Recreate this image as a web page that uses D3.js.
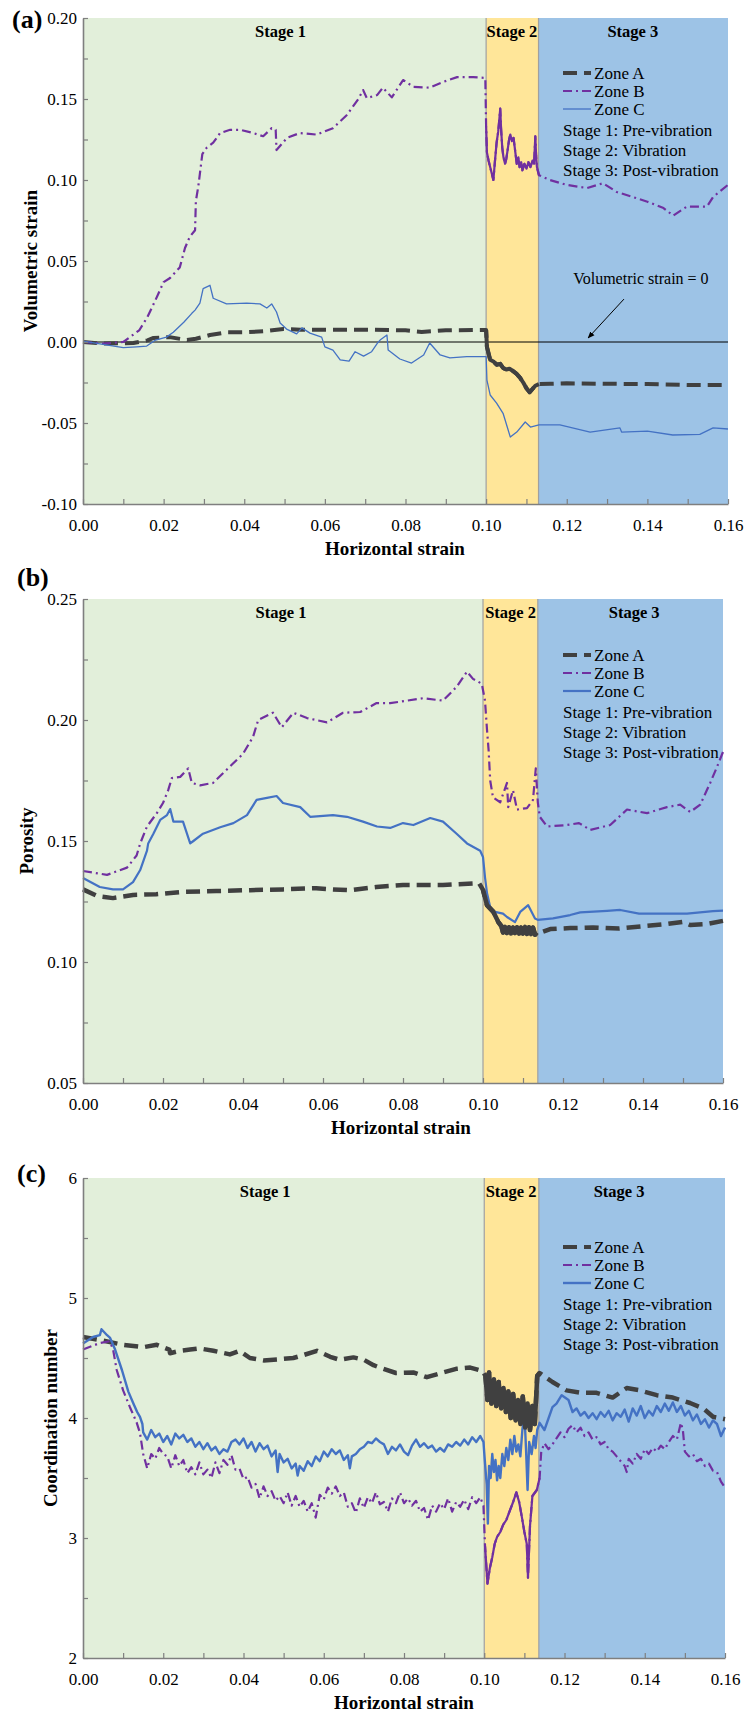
<!DOCTYPE html>
<html>
<head>
<meta charset="utf-8">
<script src="https://cdn.jsdelivr.net/npm/d3@7"></script>
<style>
  body { margin: 0; background: #fff; }
  svg { display: block; }
</style>
</head>
<body>
<div id="chart"></div>
<script>

// tick labels
var xTickLabels = ['0.00', '0.02', '0.04', '0.06', '0.08', '0.10', '0.12', '0.14', '0.16'];
var volTickLabels = ['-0.10', '-0.05', '0.00', '0.05', '0.10', '0.15', '0.20'];
var porTickLabels = ['0.05', '0.10', '0.15', '0.20', '0.25'];
var coordTickLabels = ['2', '3', '4', '5', '6'];

var zoneNames = ['Zone A', 'Zone B', 'Zone C'];
var stageNames = ['Stage 1', 'Stage 2', 'Stage 3'];
var stageNotes = ['Stage 1: Pre-vibration', 'Stage 2: Vibration', 'Stage 3: Post-vibration'];

// stage edges in horizontal strain (start, stage 2, stage 3, end)
var volStages = [0, 0.1, 0.113, 0.16];
var porStages = [0, 0.1, 0.1137, 0.16];
var coordStages = [0, 0.1, 0.1136, 0.16];

// (a) volumetric strain  [horizontal strain, value]
var volZoneA = [[0,0],[0.005,-0.001],[0.0125,-0.0006],[0.016,0.001],[0.0175,0.0025],[0.0215,0.003],[0.0258,0.0012],
  [0.028,0.002],[0.0315,0.0043],[0.0356,0.006],[0.0406,0.006],[0.0455,0.0068],[0.0497,0.008],[0.054,0.0076],[0.062,0.0076],
  [0.07,0.0076],[0.08,0.0072],[0.084,0.0062],[0.09,0.0072],[0.1,0.0074],
  [0.1002,-0.003],[0.101,-0.011],[0.1018,-0.012],[0.1026,-0.014],[0.1035,-0.0135],[0.1042,-0.016],[0.105,-0.017],
  [0.1058,-0.0165],[0.1067,-0.018],[0.1075,-0.0195],[0.1084,-0.022],[0.1092,-0.025],[0.11,-0.0285],[0.1108,-0.031],
  [0.1115,-0.029],[0.1122,-0.027],[0.1131,-0.026],
  [0.116,-0.0258],[0.12,-0.0255],[0.13,-0.0258],[0.14,-0.026],[0.15,-0.0265],[0.16,-0.0265]];
var volZoneB = [[0,0],[0.005,-0.001],[0.01,0],[0.013,0.0055],[0.014,0.0074],[0.016,0.0155],[0.018,0.026],[0.02,0.037],
  [0.0216,0.0395],[0.024,0.046],[0.0253,0.058],[0.0265,0.065],[0.0278,0.069],[0.028,0.087],[0.0286,0.096],[0.029,0.104],
  [0.0296,0.116],[0.0307,0.12],[0.0323,0.123],[0.034,0.129],[0.0365,0.131],[0.039,0.131],[0.0422,0.129],[0.0447,0.127],
  [0.0468,0.132],[0.0478,0.131],[0.048,0.1185],[0.0506,0.126],[0.0538,0.129],[0.058,0.128],[0.062,0.132],[0.0654,0.14],
  [0.0683,0.15],[0.0695,0.1555],[0.0704,0.1505],[0.073,0.1525],[0.0744,0.157],[0.0766,0.151],[0.0794,0.1617],[0.082,0.1575],
  [0.086,0.157],[0.0893,0.1605],[0.0928,0.1635],[0.0968,0.1635],[0.0998,0.163],
  [0.1,0.133],[0.1002,0.117],[0.1006,0.112],[0.101,0.108],[0.1014,0.104],[0.1018,0.1],[0.1022,0.112],[0.1026,0.123],
  [0.103,0.13],[0.1033,0.138],[0.1035,0.144],[0.1037,0.132],[0.104,0.12],[0.1043,0.114],[0.1047,0.11],[0.105,0.113],
  [0.1053,0.118],[0.1057,0.125],[0.106,0.128],[0.1064,0.124],[0.1068,0.126],[0.1072,0.118],[0.1076,0.11],[0.108,0.114],
  [0.1083,0.108],[0.1087,0.111],[0.109,0.106],[0.1095,0.11],[0.11,0.107],[0.1105,0.111],[0.111,0.108],[0.1115,0.112],
  [0.1119,0.11],[0.1122,0.127],[0.1124,0.115],[0.1126,0.108],[0.1131,0.103],
  [0.1158,0.1],[0.12,0.097],[0.125,0.095],[0.129,0.098],[0.1324,0.0926],[0.1364,0.0895],[0.14,0.0866],[0.144,0.0827],
  [0.1464,0.078],[0.1498,0.0836],[0.1548,0.0836],[0.1563,0.0895],[0.16,0.097]];
var volZoneC = [[0,0.0006],[0.0042,-0.0012],[0.01,-0.0035],[0.0133,-0.003],[0.0158,-0.0025],[0.018,0.0012],[0.0207,0.003],
  [0.0224,0.006],[0.025,0.0122],[0.027,0.0177],[0.0278,0.0197],[0.029,0.024],[0.0298,0.033],[0.0315,0.035],[0.0323,0.027],
  [0.0356,0.0235],[0.0406,0.024],[0.0439,0.0235],[0.0456,0.021],[0.0468,0.0235],[0.048,0.0185],[0.0489,0.0117],
  [0.0505,0.008],[0.053,0.005],[0.0543,0.0087],[0.0563,0.0055],[0.0592,0.003],[0.06,-0.003],[0.062,-0.005],[0.0638,-0.011],
  [0.066,-0.0118],[0.0675,-0.006],[0.0696,-0.0087],[0.0716,-0.006],[0.073,-0.0008],[0.0737,0.0012],[0.0754,0.0043],
  [0.0757,-0.005],[0.0786,-0.0105],[0.0815,-0.013],[0.0845,-0.008],[0.086,-0.0006],[0.0886,-0.008],[0.091,-0.0098],
  [0.0952,-0.009],[0.1,-0.009],
  [0.1002,-0.0235],[0.101,-0.0327],[0.1026,-0.0377],[0.1042,-0.044],[0.106,-0.0587],[0.1076,-0.0556],[0.1097,-0.0494],
  [0.111,-0.0525],[0.1131,-0.0512],
  [0.1183,-0.0512],[0.1258,-0.0556],[0.1332,-0.053],[0.1336,-0.0556],[0.14,-0.055],[0.1463,-0.0574],[0.153,-0.057],
  [0.1563,-0.053],[0.16,-0.0537]];

// (b) porosity
var porZoneA = [[0,0.13],[0.0035,0.1273],[0.0075,0.1264],[0.0125,0.1277],[0.0183,0.128],[0.025,0.129],[0.0333,0.1293],
  [0.0418,0.1297],[0.05,0.13],[0.0583,0.1305],[0.0625,0.13],[0.0668,0.1297],[0.0733,0.131],[0.08,0.1318],[0.09,0.1318],
  [0.099,0.1326],
  [0.1,0.1298],[0.101,0.1235],[0.1026,0.1207],[0.1038,0.1166],[0.1046,0.1148],[0.105,0.1122],[0.1055,0.1145],
  [0.106,0.112],[0.1065,0.1143],[0.107,0.1118],[0.1075,0.1142],[0.108,0.112],[0.1085,0.1143],[0.109,0.1117],
  [0.1095,0.1142],[0.11,0.1118],[0.1105,0.1145],[0.111,0.1116],[0.1115,0.1143],[0.112,0.1115],[0.1125,0.1142],
  [0.113,0.1113],[0.1135,0.1122],
  [0.115,0.1125],[0.1168,0.1136],[0.1218,0.114],[0.1275,0.1143],[0.134,0.1138],[0.14,0.1148],[0.146,0.1157],[0.15,0.1166],
  [0.1518,0.1153],[0.156,0.1157],[0.16,0.117]];
var porZoneB = [[0,0.1376],[0.006,0.136],[0.011,0.139],[0.0134,0.144],[0.0143,0.149],[0.016,0.156],[0.0185,0.1616],
  [0.02,0.1657],[0.0213,0.171],[0.0222,0.176],[0.0243,0.1765],[0.0263,0.18],[0.0272,0.174],[0.0293,0.173],[0.0325,0.174],
  [0.035,0.178],[0.0375,0.182],[0.04,0.186],[0.0425,0.193],[0.0438,0.2],[0.0475,0.203],[0.0497,0.197],[0.0526,0.203],
  [0.056,0.2008],[0.061,0.199],[0.065,0.203],[0.0693,0.2033],[0.0734,0.207],[0.0768,0.207],[0.079,0.2075],[0.085,0.209],
  [0.09,0.208],[0.0934,0.2137],[0.096,0.22],[0.0975,0.217],[0.0997,0.215],
  [0.1005,0.208],[0.101,0.196],[0.1014,0.1876],[0.1018,0.175],[0.1025,0.168],[0.1043,0.166],[0.106,0.174],[0.1063,0.164],
  [0.1075,0.171],[0.1085,0.163],[0.111,0.1636],[0.1125,0.167],[0.1132,0.18],[0.1137,0.166],
  [0.1142,0.16],[0.116,0.156],[0.121,0.1566],[0.124,0.1574],[0.1268,0.1546],[0.1318,0.1566],[0.136,0.163],[0.1393,0.162],
  [0.141,0.1615],[0.146,0.164],[0.1493,0.165],[0.1518,0.162],[0.1543,0.165],[0.1568,0.174],[0.1585,0.1806],[0.16,0.1868]];
var porZoneC = [[0,0.1347],[0.0042,0.131],[0.0075,0.13],[0.01,0.13],[0.0125,0.133],[0.0143,0.138],[0.016,0.146],
  [0.0163,0.149],[0.0176,0.153],[0.0193,0.1587],[0.021,0.1607],[0.0218,0.1632],[0.0226,0.158],[0.025,0.158],[0.0268,0.149],
  [0.0276,0.15],[0.03,0.153],[0.0343,0.1557],[0.0376,0.1574],[0.041,0.1607],[0.0434,0.167],[0.046,0.1678],[0.0484,0.1686],
  [0.05,0.1657],[0.0543,0.164],[0.0568,0.16],[0.0625,0.1607],[0.066,0.16],[0.07,0.158],[0.0735,0.156],[0.0768,0.1554],
  [0.08,0.1574],[0.0826,0.1566],[0.0868,0.1595],[0.09,0.158],[0.0934,0.153],[0.096,0.149],[0.0993,0.146],
  [0.1,0.1434],[0.1005,0.135],[0.101,0.1285],[0.1018,0.1227],[0.103,0.1207],[0.105,0.12],[0.106,0.1186],[0.108,0.1165],
  [0.1093,0.1207],[0.1113,0.1235],[0.113,0.118],[0.1137,0.1174],
  [0.1175,0.118],[0.1218,0.1194],[0.1243,0.1205],[0.131,0.1211],[0.1343,0.1215],[0.139,0.12],[0.151,0.12],[0.1575,0.121],
  [0.16,0.1212]];

// (c) coordination number
var coordZoneA = [[0,4.675],[0.0042,4.65],[0.01,4.61],[0.015,4.59],[0.0184,4.61],[0.0215,4.57],[0.0217,4.54],[0.0242,4.56],
  [0.0267,4.57],[0.029,4.58],[0.0325,4.56],[0.0366,4.53],[0.039,4.56],[0.0416,4.5],[0.045,4.48],[0.049,4.49],[0.0524,4.5],
  [0.055,4.525],[0.0583,4.56],[0.0616,4.51],[0.064,4.485],[0.0674,4.505],[0.07,4.485],[0.0724,4.44],[0.074,4.42],
  [0.078,4.375],[0.0823,4.38],[0.0857,4.34],[0.0898,4.38],[0.093,4.41],[0.0965,4.42],[0.0997,4.39],
  [0.1003,4.35],[0.1008,4.15],[0.1012,4.38],[0.1018,4.12],[0.1024,4.32],[0.103,4.1],[0.1036,4.3],[0.1042,4.08],
  [0.1048,4.25],[0.1054,4.05],[0.106,4.22],[0.1066,4.0],[0.1072,4.2],[0.1078,3.98],[0.1084,4.15],[0.109,3.95],
  [0.1096,4.18],[0.1102,3.92],[0.1108,4.12],[0.1114,3.9],[0.112,4.1],[0.1126,3.95],[0.1132,4.35],
  [0.1138,4.375],[0.117,4.3],[0.1205,4.23],[0.124,4.21],[0.128,4.21],[0.132,4.17],[0.1355,4.25],[0.1388,4.23],
  [0.143,4.19],[0.147,4.17],[0.1513,4.125],[0.1546,4.08],[0.157,4.01],[0.16,3.99]];
var coordZoneB = [[0,4.57],[0.0042,4.625],[0.0067,4.64],[0.0075,4.57],[0.0084,4.4],[0.01,4.23],[0.0117,4.09],[0.0134,3.96],
  [0.0142,3.875],[0.015,3.7],[0.016,3.58],[0.017,3.7],[0.018,3.66],[0.019,3.75],[0.02,3.7],[0.021,3.68],[0.022,3.58],
  [0.023,3.69],[0.024,3.6],[0.025,3.65],[0.026,3.54],[0.027,3.59],[0.028,3.53],[0.029,3.63],[0.03,3.53],[0.031,3.57],
  [0.032,3.5],[0.033,3.63],[0.034,3.54],[0.035,3.65],[0.036,3.61],[0.037,3.69],[0.038,3.57],[0.039,3.58],[0.04,3.49],
  [0.041,3.51],[0.042,3.42],[0.043,3.45],[0.044,3.33],[0.045,3.43],[0.046,3.35],[0.047,3.39],[0.048,3.31],[0.049,3.35],
  [0.05,3.29],[0.051,3.38],[0.052,3.27],[0.053,3.35],[0.054,3.26],[0.055,3.31],[0.056,3.22],[0.057,3.29],[0.058,3.17],
  [0.059,3.36],[0.06,3.32],[0.061,3.42],[0.062,3.37],[0.063,3.43],[0.064,3.35],[0.065,3.38],[0.066,3.26],[0.067,3.29],
  [0.068,3.21],[0.069,3.33],[0.07,3.25],[0.071,3.34],[0.072,3.29],[0.073,3.38],[0.074,3.28],[0.075,3.3],[0.076,3.22],
  [0.077,3.33],[0.078,3.29],[0.079,3.38],[0.08,3.29],[0.081,3.33],[0.082,3.27],[0.083,3.31],[0.084,3.22],[0.085,3.25],
  [0.086,3.15],[0.087,3.27],[0.088,3.22],[0.089,3.29],[0.09,3.24],[0.091,3.33],[0.092,3.22],[0.093,3.3],[0.094,3.26],
  [0.095,3.32],[0.096,3.24],[0.097,3.34],[0.098,3.29],[0.099,3.34],[0.0998,3.27],
  [0.1002,2.93],[0.1008,2.62],[0.1014,2.75],[0.102,2.84],[0.1026,2.95],[0.1032,3.01],[0.104,3.05],[0.1047,3.11],
  [0.1055,3.15],[0.1064,3.23],[0.1072,3.3],[0.108,3.38],[0.1087,3.3],[0.1094,3.17],[0.11,3.05],[0.1106,2.95],
  [0.1109,2.67],[0.1114,3.1],[0.112,3.35],[0.1131,3.4],
  [0.1138,3.5],[0.1142,3.72],[0.115,3.79],[0.116,3.74],[0.117,3.78],[0.118,3.83],[0.119,3.88],[0.12,3.84],[0.121,3.91],
  [0.122,3.94],[0.123,3.88],[0.124,3.92],[0.125,3.85],[0.126,3.88],[0.127,3.82],[0.128,3.84],[0.129,3.78],[0.13,3.8],
  [0.131,3.74],[0.132,3.72],[0.133,3.68],[0.134,3.64],[0.135,3.6],[0.1355,3.55],[0.136,3.66],[0.137,3.62],[0.138,3.7],
  [0.139,3.66],[0.14,3.74],[0.141,3.7],[0.142,3.75],[0.143,3.72],[0.144,3.77],[0.145,3.74],[0.146,3.8],[0.147,3.85],
  [0.148,3.82],[0.149,3.96],[0.1495,3.9],[0.15,3.72],[0.151,3.68],[0.152,3.7],[0.153,3.64],[0.154,3.66],[0.155,3.6],
  [0.156,3.62],[0.157,3.56],[0.158,3.55],[0.159,3.47],[0.16,3.42]];
var coordZoneC = [[0,4.62],[0.0025,4.675],[0.0042,4.69],[0.0046,4.74],[0.006,4.69],[0.0067,4.67],[0.008,4.57],[0.0097,4.4],
  [0.0113,4.22],[0.0125,4.125],[0.0135,4.05],[0.0142,4.01],[0.0148,3.95],
  [0.015,3.88],[0.016,3.82],[0.017,3.9],[0.018,3.84],[0.019,3.87],[0.02,3.8],[0.021,3.85],[0.022,3.78],[0.023,3.87],
  [0.024,3.83],[0.025,3.86],[0.026,3.8],[0.027,3.83],[0.028,3.76],[0.029,3.8],[0.03,3.74],[0.031,3.79],[0.032,3.73],
  [0.033,3.76],[0.034,3.7],[0.035,3.74],[0.036,3.72],[0.037,3.8],[0.038,3.82],[0.039,3.78],[0.04,3.83],[0.041,3.75],
  [0.042,3.8],[0.043,3.72],[0.044,3.79],[0.045,3.74],[0.046,3.77],[0.047,3.68],[0.048,3.73],[0.0485,3.55],[0.049,3.7],
  [0.05,3.63],[0.051,3.66],[0.052,3.58],[0.053,3.62],[0.0535,3.52],[0.054,3.6],[0.055,3.56],[0.056,3.64],[0.057,3.6],
  [0.058,3.68],[0.059,3.64],[0.06,3.72],[0.061,3.68],[0.062,3.74],[0.063,3.7],[0.064,3.73],[0.065,3.65],[0.066,3.69],
  [0.0665,3.58],[0.067,3.68],[0.068,3.7],[0.069,3.74],[0.07,3.76],[0.071,3.8],[0.072,3.79],[0.073,3.83],[0.074,3.8],
  [0.075,3.78],[0.076,3.7],[0.077,3.76],[0.078,3.73],[0.079,3.78],[0.08,3.72],[0.081,3.69],[0.082,3.77],[0.083,3.82],
  [0.084,3.76],[0.085,3.79],[0.086,3.75],[0.087,3.77],[0.088,3.72],[0.089,3.75],[0.09,3.72],[0.091,3.78],[0.092,3.76],
  [0.093,3.8],[0.094,3.77],[0.095,3.82],[0.096,3.78],[0.097,3.84],[0.098,3.8],[0.099,3.85],[0.0998,3.8],
  [0.1002,3.62],[0.1006,3.45],[0.1009,3.12],[0.1012,3.6],[0.1016,3.5],[0.102,3.7],[0.1024,3.55],[0.1028,3.65],
  [0.1032,3.48],[0.1036,3.6],[0.104,3.5],[0.1045,3.7],[0.105,3.6],[0.1055,3.75],[0.106,3.65],[0.1065,3.82],[0.107,3.7],
  [0.1075,3.85],[0.108,3.72],[0.1085,3.78],[0.109,3.68],[0.1095,3.9],[0.11,4.05],[0.1104,3.75],[0.1108,3.4],
  [0.1112,3.8],[0.1118,3.7],[0.1124,3.85],[0.1128,3.75],[0.1132,3.9],
  [0.1138,3.96],[0.115,3.9],[0.117,4.09],[0.118,4.12],[0.1193,4.19],[0.121,4.15],[0.122,4.05],[0.123,4.08],[0.124,4.02],
  [0.125,4.05],[0.126,4.0],[0.127,4.04],[0.128,3.99],[0.129,4.05],[0.13,4.01],[0.131,4.06],[0.132,3.98],[0.133,4.04],
  [0.134,4.01],[0.135,4.07],[0.136,3.97],[0.137,4.08],[0.138,4.02],[0.139,4.1],[0.14,4.0],[0.141,4.06],[0.142,4.02],
  [0.143,4.1],[0.144,4.05],[0.145,4.12],[0.146,4.06],[0.147,4.13],[0.148,4.05],[0.149,4.1],[0.15,4.02],[0.151,4.06],
  [0.152,3.98],[0.153,4.03],[0.154,3.95],[0.155,3.99],[0.156,3.92],[0.157,3.98],[0.158,3.95],[0.159,3.85],[0.16,3.92]];


var W = 755, H = 1713;
var left = 83;
var serif = '"Liberation Serif", "Times New Roman", serif';
var stageColors = ['#e2efda', '#ffe699', '#9dc3e6'];
var zoneColors = ['#404040', '#7030a0', '#4472c4'];
var zoneDash = ['14,7', '9,4,2,4', null];

var svg = d3.select('#chart').append('svg')
    .attr('width', W)
    .attr('height', H)
    .attr('viewBox', '0 0 ' + W + ' ' + H)
    .style('background', '#fff');

svg.append('defs').append('marker')
    .attr('id', 'arrow')
    .attr('viewBox', '0 0 10 10')
    .attr('refX', 9).attr('refY', 5)
    .attr('markerWidth', 7).attr('markerHeight', 7)
    .attr('orient', 'auto')
  .append('path')
    .attr('d', 'M0,1 L10,5 L0,9 Z')
    .attr('fill', '#000');

var panels = [
  {letter: '(a)', letterX: 12, letterY: 28, top: 18, bottom: 504, right: 728,
   yDomain: [-0.1, 0.2], yMinor: 0.025, yLabels: volTickLabels, yTitle: 'Volumetric strain', yTitleX: 30, xTitleX: 395,
   stages: volStages, series: [volZoneA, volZoneB, volZoneC], widths: [4, 2.2, 1.3], solidStage2: [0, 1],
   stageLabelX: [0.049, 0.1064, 0.1364], legendTop: 55, zeroLine: true},
  {letter: '(b)', letterX: 17, letterY: 586, top: 599, bottom: 1083, right: 723,
   yDomain: [0.05, 0.25], yMinor: 0.025, yLabels: porTickLabels, yTitle: 'Porosity', yTitleX: 26, xTitleX: 401,
   stages: porStages, series: [porZoneA, porZoneB, porZoneC], widths: [4.5, 2.2, 2.2], solidStage2: [0],
   stageLabelX: [0.0495, 0.1069, 0.1378], legendTop: 56, zeroLine: false},
  {letter: '(c)', letterX: 17, letterY: 1182, top: 1178, bottom: 1658, right: 725,
   yDomain: [2, 6], yMinor: 0.5, yLabels: coordTickLabels, yTitle: 'Coordination number', yTitleX: 50, xTitleX: 404,
   stages: coordStages, series: [coordZoneA, coordZoneB, coordZoneC], widths: [4.5, 2.2, 2.4], solidStage2: [0, 1],
   stageLabelX: [0.0454, 0.1067, 0.1336], legendTop: 69, zeroLine: false}
];

panels.forEach(renderPanel);

function renderPanel(p) {

  var x = d3.scaleLinear().domain([0, 0.16]).range([left, p.right]);
  var y = d3.scaleLinear().domain(p.yDomain).range([p.bottom, p.top]);
  var g = svg.append('g');

  // stage backgrounds
  g.selectAll('rect.stage')
      .data(d3.pairs(p.stages))
    .enter().append('rect')
      .attr('x', function(d) { return x(d[0]); })
      .attr('width', function(d) { return x(d[1]) - x(d[0]); })
      .attr('y', p.top)
      .attr('height', p.bottom - p.top)
      .attr('fill', function(d, i) { return stageColors[i]; });

  g.selectAll('line.edge')
      .data(p.stages.slice(1, 3))
    .enter().append('line')
      .attr('x1', function(d) { return x(d); })
      .attr('x2', function(d) { return x(d); })
      .attr('y1', p.top)
      .attr('y2', p.bottom)
      .attr('stroke', '#a0a0a0')
      .attr('stroke-width', 1.2);

  // stage titles
  g.selectAll('text.stage')
      .data(stageNames)
    .enter().append('text')
      .attr('x', function(d, i) { return x(p.stageLabelX[i]); })
      .attr('y', p.top + 19)
      .attr('text-anchor', 'middle')
      .attr('font-family', serif)
      .attr('font-weight', 'bold')
      .attr('font-size', '16.5px')
      .text(function(d) { return d; });

  if (p.zeroLine) {
    g.append('line')
        .attr('x1', x(0)).attr('x2', x(0.16))
        .attr('y1', y(0)).attr('y2', y(0))
        .attr('stroke', '#000')
        .attr('stroke-width', 1);
    g.append('text')
        .attr('x', x(0.1384))
        .attr('y', y(0.0358))
        .attr('text-anchor', 'middle')
        .attr('font-family', serif)
        .attr('font-size', '16px')
        .text('Volumetric strain = 0');
    g.append('line')
        .attr('x1', x(0.1342)).attr('y1', y(0.0265))
        .attr('x2', x(0.1253)).attr('y2', y(0.0025))
        .attr('stroke', '#000')
        .attr('stroke-width', 1)
        .attr('marker-end', 'url(#arrow)');
  }

  // zone curves
  var line = d3.line()
      .x(function(d) { return x(d[0]); })
      .y(function(d) { return y(d[1]); });

  p.series.forEach(function(s, i) {
    g.append('path')
        .datum(s)
        .attr('d', line)
        .attr('fill', 'none')
        .attr('stroke', zoneColors[i])
        .attr('stroke-width', p.widths[i])
        .attr('stroke-dasharray', zoneDash[i])
        .attr('stroke-linejoin', 'round');
  });

  // dense vibration data reads as a solid band
  p.solidStage2.forEach(function(i) {
    var seg = p.series[i].filter(function(d) {
      return d[0] >= p.stages[1] && d[0] <= p.stages[2] + 0.0003;
    });
    g.append('path')
        .datum(seg)
        .attr('d', line)
        .attr('fill', 'none')
        .attr('stroke', zoneColors[i])
        .attr('stroke-width', p.widths[i])
        .attr('stroke-linejoin', 'round');
  });

  // axes
  var xAxis = d3.axisBottom(x)
      .tickValues(d3.range(0, 0.1601, 0.01))
      .tickSize(-5)
      .tickSizeOuter(0)
      .tickPadding(15)
      .tickFormat(function(d, i) { return i % 2 === 0 ? xTickLabels[i / 2] : ''; });

  var yAxis = d3.axisLeft(y)
      .tickValues(d3.range(p.yDomain[0], p.yDomain[1] + p.yMinor / 2, p.yMinor))
      .tickSize(-5)
      .tickSizeOuter(0)
      .tickPadding(6)
      .tickFormat(function(d, i) { return i % 2 === 0 ? p.yLabels[i / 2] : ''; });

  var gx = g.append('g')
      .attr('transform', 'translate(0,' + p.bottom + ')')
      .call(xAxis);
  var gy = g.append('g')
      .attr('transform', 'translate(' + left + ',0)')
      .call(yAxis);

  [gx, gy].forEach(function(a) {
    a.select('.domain').attr('stroke', '#7f7f7f').attr('stroke-width', 1.6);
    a.selectAll('.tick line').attr('stroke', '#7f7f7f').attr('stroke-width', 1.2);
    a.selectAll('.tick text')
        .attr('font-family', serif)
        .attr('font-size', '17px')
        .attr('fill', '#000');
  });

  // axis titles
  g.append('text')
      .attr('x', p.xTitleX)
      .attr('y', p.bottom + 51)
      .attr('text-anchor', 'middle')
      .attr('font-family', serif)
      .attr('font-weight', 'bold')
      .attr('font-size', '19px')
      .text('Horizontal strain');

  g.append('text')
      .attr('transform', 'translate(' + p.yTitleX + ',' + (p.top + p.bottom) / 2 + ') rotate(-90)')
      .attr('text-anchor', 'middle')
      .attr('dy', '0.35em')
      .attr('font-family', serif)
      .attr('font-weight', 'bold')
      .attr('font-size', '19px')
      .text(p.yTitle);

  g.append('text')
      .attr('x', p.letterX)
      .attr('y', p.letterY)
      .attr('font-family', serif)
      .attr('font-weight', 'bold')
      .attr('font-size', '26px')
      .text(p.letter);

  // legend
  var lg = g.append('g')
      .attr('transform', 'translate(0,' + (p.top + p.legendTop) + ')');

  zoneNames.forEach(function(name, i) {
    lg.append('line')
        .attr('x1', 563).attr('x2', 591)
        .attr('y1', i * 18).attr('y2', i * 18)
        .attr('stroke', zoneColors[i])
        .attr('stroke-width', Math.min(p.widths[i], 4))
        .attr('stroke-dasharray', zoneDash[i]);
    lg.append('text')
        .attr('x', 594)
        .attr('y', i * 18)
        .attr('dy', '0.35em')
        .attr('font-family', serif)
        .attr('font-size', '17px')
        .text(name);
  });

  stageNotes.forEach(function(note, i) {
    lg.append('text')
        .attr('x', 563)
        .attr('y', 57 + i * 20)
        .attr('dy', '0.35em')
        .attr('font-family', serif)
        .attr('font-size', '17px')
        .text(note);
  });
}

</script>
</body>
</html>
